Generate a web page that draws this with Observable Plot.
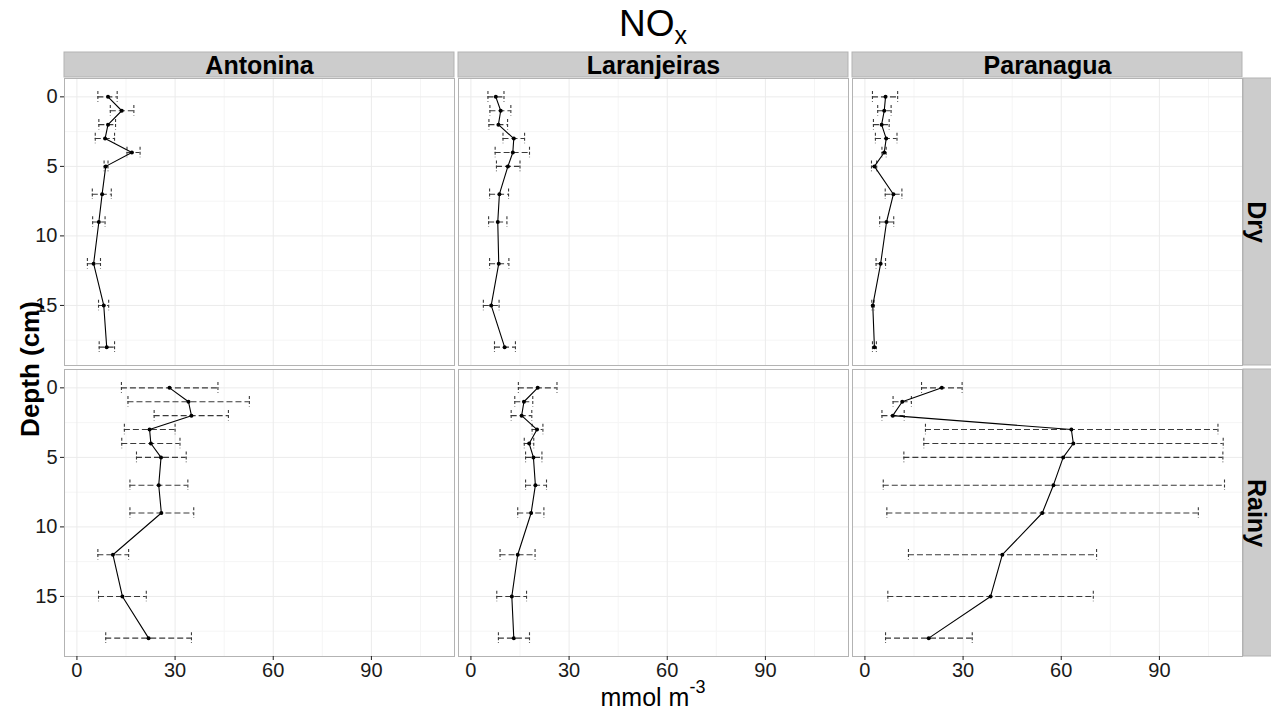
<!DOCTYPE html>
<html>
<head>
<meta charset="utf-8">
<script src="https://cdn.jsdelivr.net/npm/d3@7"></script>
<script src="https://cdn.jsdelivr.net/npm/@observablehq/plot@0.6"></script>
<style>
  body { margin: 0; background: #fff; }
  #wrap { position: relative; width: 1271px; height: 713px; font-family: "Liberation Sans", Arial, sans-serif; color: #000; overflow: hidden; }
  #title { position: absolute; left: 653px; top: 5px; transform: translateX(-50%); font-size: 37px; line-height: 37px; white-space: nowrap; }
  #title span { font-size: 25px; line-height: 16px; height: 16px; display: inline-block; position: relative; top: 8px; }
  #chart { position: absolute; left: 0; top: 50px; }
  #chart svg, #chart svg text { font-family: "Liberation Sans", Arial, sans-serif !important; }
  #ylab { position: absolute; left: 30px; top: 369px; transform: translate(-50%, -50%) rotate(-90deg); font-size: 26px; font-weight: bold; white-space: nowrap; line-height: 26px; }
  #xlab { position: absolute; left: 653px; top: 685px; transform: translateX(-50%); font-size: 25px; line-height: 25px; white-space: nowrap; }
  #xlab span { font-size: 18px; position: relative; top: -13px; }
</style>
</head>
<body>
<div id="wrap">
  <div id="title">NO<span>x</span></div>
  <div id="chart"></div>
  <div id="ylab">Depth (cm)</div>
  <div id="xlab">mmol m<span>-3</span></div>
</div>
<script>
// ---- data ----
const sites = ["Antonina", "Laranjeiras", "Paranagua"];
const seasons = ["Dry", "Rainy"];
const depths = [0, 1, 2, 3, 4, 5, 7, 9, 12, 15, 18];
const xTicks = [0, 30, 60, 90];
const xMinorTicks = [15, 45, 75, 105];
const yTicks = [0, 5, 10, 15];
const yMinorTicks = [2.5, 7.5, 12.5, 17.5];

const antDryMean = [9.5, 13.7, 9.5, 8.6, 16.8, 8.8, 7.7, 6.7, 5.1, 8.2, 9.1];
const antDryLo   = [6.4, 10.2, 6.7, 5.6, 15.3, 8.3, 4.7, 4.8, 3.2, 6.6, 6.8];
const antDryHi   = [12.3, 17.4, 11.8, 11.5, 19.3, 9.5, 10.5, 8.6, 7.2, 9.7, 11.5];

const larDryMean = [7.6, 9.1, 8.4, 13.1, 12.8, 11.3, 8.7, 8.2, 8.5, 6.2, 10.3];
const larDryLo   = [5.2, 5.8, 5.5, 9.8, 7.4, 7.8, 5.7, 5.4, 5.7, 3.8, 7.2];
const larDryHi   = [10.1, 12.2, 11.2, 16.4, 17.9, 15.0, 11.5, 11.0, 11.6, 8.6, 13.6];

const parDryMean = [6.3, 5.9, 5.1, 6.5, 5.9, 2.9, 8.7, 6.6, 4.8, 2.4, 2.9];
const parDryLo   = [2.3, 3.9, 2.6, 3.2, 5.2, 2.0, 6.2, 4.5, 3.4, 2.1, 2.3];
const parDryHi   = [10.0, 8.0, 7.4, 9.8, 6.5, 3.6, 11.3, 8.8, 6.3, 2.8, 3.5];

const antRainyMean = [28.3, 34.1, 35.0, 22.2, 22.6, 25.7, 25.0, 25.8, 11.0, 13.9, 21.9];
const antRainyLo   = [13.6, 15.6, 23.6, 14.5, 13.7, 18.2, 16.2, 16.2, 6.4, 6.6, 8.8];
const antRainyHi   = [43.1, 52.7, 46.3, 30.0, 31.5, 33.4, 33.9, 35.7, 15.8, 21.2, 35.0];

const larRainyMean = [20.4, 16.2, 15.5, 20.2, 17.8, 19.1, 19.7, 18.4, 14.3, 12.5, 13.1];
const larRainyLo   = [14.5, 13.4, 12.3, 18.7, 16.3, 16.7, 16.7, 14.3, 8.9, 7.9, 8.4];
const larRainyHi   = [26.3, 18.9, 18.6, 22.0, 19.2, 21.7, 23.1, 22.3, 19.6, 17.0, 17.9];

const parRainyMean = [23.5, 11.4, 8.5, 63.1, 63.7, 60.6, 57.6, 54.2, 42.0, 38.4, 19.5];
const parRainyLo   = [17.3, 8.6, 5.2, 18.5, 18.0, 11.9, 5.6, 6.7, 13.3, 7.0, 6.3];
const parRainyHi   = [29.7, 14.2, 12.0, 107.9, 109.5, 109.4, 109.9, 101.9, 70.8, 69.8, 32.8];

// ---- table ----
const series = [
  {site: "Antonina", season: "Dry", mean: antDryMean, lo: antDryLo, hi: antDryHi},
  {site: "Laranjeiras", season: "Dry", mean: larDryMean, lo: larDryLo, hi: larDryHi},
  {site: "Paranagua", season: "Dry", mean: parDryMean, lo: parDryLo, hi: parDryHi},
  {site: "Antonina", season: "Rainy", mean: antRainyMean, lo: antRainyLo, hi: antRainyHi},
  {site: "Laranjeiras", season: "Rainy", mean: larRainyMean, lo: larRainyLo, hi: larRainyHi},
  {site: "Paranagua", season: "Rainy", mean: parRainyMean, lo: parRainyLo, hi: parRainyHi}
];
const rows = series.flatMap(s => depths.map((d, i) => ({
  site: s.site, season: s.season, depth: d, mean: s.mean[i], lo: s.lo[i], hi: s.hi[i]
})));

// ---- layout ----
const W = 1271, H = 640;
const mL = 63, mR = 28.5, mT = 28, mB = 34;
const gap = 4;
const xDom = [-3.8, 115.4];
const yDom = [-1.32, 19.32];
const innerW = W - mL - mR, innerH = H - mT - mB;
const stepX = (innerW + gap) / sites.length, padX = gap / stepX, bwX = stepX - gap;
const stepY = (innerH + gap) / seasons.length, padY = gap / stepY, bwY = stepY - gap;
const kX = bwX / (xDom[1] - xDom[0]);
const kY = bwY / (yDom[1] - yDom[0]);
const capH = 0.38;
const FONT = "'Liberation Sans', Arial, sans-serif";

const topStrips = sites.map(s => ({site: s, season: seasons[0]}));
const sideStrips = seasons.map(s => ({site: sites[sites.length - 1], season: s}));

const dash = "6,3";
const ebColor = "#3a3a3a";

const plot = Plot.plot({
  width: W, height: H,
  marginLeft: mL, marginRight: mR, marginTop: mT, marginBottom: mB,
  style: {fontFamily: FONT, background: "#fff", overflow: "visible"},
  fx: {domain: sites, padding: padX, axis: null},
  fy: {domain: seasons, padding: padY, axis: null},
  x: {domain: xDom},
  y: {domain: yDom, reverse: true},
  marks: [
    Plot.gridX(xMinorTicks, {stroke: "#F5F5F5", strokeOpacity: 1}),
    Plot.gridY(yMinorTicks, {stroke: "#F5F5F5", strokeOpacity: 1}),
    Plot.gridX(xTicks, {stroke: "#EBEBEB", strokeOpacity: 1}),
    Plot.gridY(yTicks, {stroke: "#EBEBEB", strokeOpacity: 1}),
    Plot.frame({stroke: "#b3b3b3", strokeWidth: 1}),
    // top strips
    Plot.rect(topStrips, {
      fx: "site", fy: "season",
      x1: () => xDom[0], x2: () => xDom[1],
      y1: () => yDom[0] - 1 / kY, y2: () => yDom[0] - 26 / kY,
      fill: "#CCCCCC", stroke: "#b3b3b3"
    }),
    Plot.text(topStrips, {
      fx: "site", fy: "season",
      x: () => (xDom[0] + xDom[1]) / 2, y: () => yDom[0] - 13 / kY,
      text: "site", fontSize: 25, fontWeight: "bold", fontFamily: FONT, fill: "#000"
    }),
    // side strips
    Plot.rect(sideStrips, {
      fx: "site", fy: "season",
      x1: () => xDom[1] + 1 / kX, x2: () => xDom[1] + 40 / kX,
      y1: () => yDom[0], y2: () => yDom[1],
      fill: "#CCCCCC", stroke: "#b3b3b3"
    }),
    Plot.text(sideStrips, {
      fx: "site", fy: "season",
      x: () => xDom[1] + 14 / kX, y: () => (yDom[0] + yDom[1]) / 2,
      text: "season", rotate: 90, fontSize: 25, fontWeight: "bold", fontFamily: FONT, fill: "#000"
    }),
    // error bars
    Plot.ruleY(rows, {fx: "site", fy: "season", y: "depth", x1: "lo", x2: "hi",
      stroke: ebColor, strokeWidth: 1.1, strokeDasharray: dash}),
    Plot.ruleX(rows, {fx: "site", fy: "season", x: "lo", y1: d => d.depth - capH, y2: d => d.depth + capH,
      stroke: ebColor, strokeWidth: 1.1, strokeDasharray: "3,2"}),
    Plot.ruleX(rows, {fx: "site", fy: "season", x: "hi", y1: d => d.depth - capH, y2: d => d.depth + capH,
      stroke: ebColor, strokeWidth: 1.1, strokeDasharray: "3,2"}),
    // profile line and points
    Plot.line(rows, {fx: "site", fy: "season", x: "mean", y: "depth", stroke: "#000", strokeWidth: 1.1}),
    Plot.dot(rows, {fx: "site", fy: "season", x: "mean", y: "depth", r: 2, fill: "#000", stroke: "none"}),
    // axes
    Plot.axisX({ticks: xTicks, tickSize: 4, tickPadding: 2, fontSize: 20, fontFamily: FONT, label: null, color: "#1a1a1a", facetAnchor: "bottom"}),
    Plot.axisY({ticks: yTicks, tickSize: 4, tickPadding: 3, fontSize: 20, fontFamily: FONT, label: null, color: "#1a1a1a", facetAnchor: "left"})
  ]
});
document.getElementById("chart").appendChild(plot);
</script>
</body>
</html>
